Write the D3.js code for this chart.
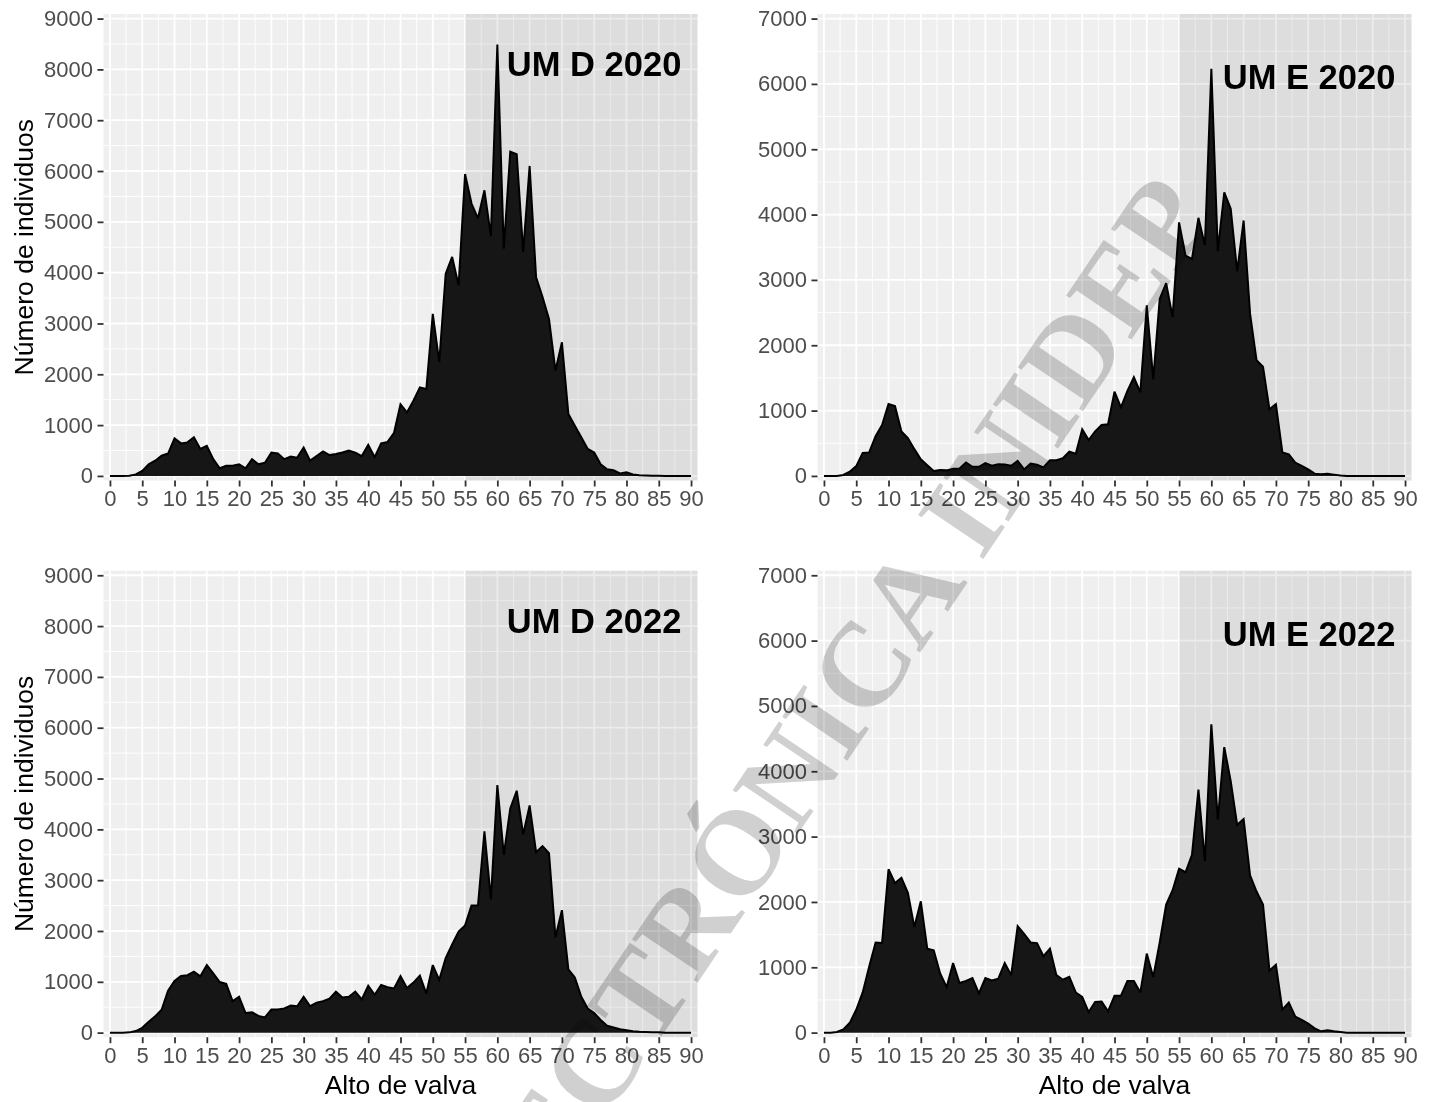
<!DOCTYPE html>
<html>
<head>
<meta charset="utf-8">
<script src="https://cdn.jsdelivr.net/npm/d3@7"></script>
<style>
  body { margin: 0; background: #fff; }
  svg { display: block; font-family: "Liberation Sans", Arial, sans-serif; }
</style>
</head>
<body>
<svg id="chart" width="1436" height="1102"></svg>
<script>
// Shell height classes (mm), one value per 1 mm class from 0 to 90
const sizes = d3.range(0, 91);

// Number of individuals per size class, one series per management unit and year
const umD2020 = [0,0,0,5,30,100,230,300,400,440,740,640,660,760,530,590,330,150,200,200,
  230,150,330,230,260,460,440,330,380,360,560,300,390,480,410,430,460,500,460,390,
  610,370,640,670,850,1410,1250,1480,1740,1710,3190,2240,3980,4310,3750,5940,5360,5070,5620,4720,
  8490,4470,6380,6330,4410,6100,3910,3520,3090,2070,2630,1220,990,760,530,460,230,130,110,50,
  70,30,15,10,5,5,0,0,0,0,0];

const umE2020 = [0,0,0,15,65,150,350,360,610,780,1100,1070,680,580,410,255,165,75,90,85,
  110,115,205,140,140,195,155,180,175,155,230,100,190,170,130,240,240,270,370,340,
  715,550,680,780,790,1290,1050,1300,1510,1280,2610,1480,2710,2950,2430,3880,3370,3320,3950,3530,
  6230,3440,4340,4090,3130,3910,2480,1770,1670,1020,1100,360,330,205,155,100,35,25,35,20,
  5,0,0,0,0,0,0,0,0,0,0];

const umD2022 = [0,0,0,5,30,95,215,320,450,825,1015,1115,1130,1200,1110,1330,1165,995,960,620,
  705,385,400,330,300,455,455,475,535,520,705,520,590,620,670,805,690,705,805,655,
  925,745,940,895,870,1110,880,985,1120,770,1330,1040,1465,1735,1990,2110,2500,2500,3960,2620,
  4870,3500,4410,4760,3900,4470,3550,3670,3530,1875,2410,1245,1085,705,475,385,250,135,100,65,
  45,25,15,10,5,5,0,0,0,0,0];

const umE2022 = [0,0,10,50,150,350,615,1010,1380,1370,2500,2290,2370,2140,1615,2010,1285,1260,905,695,
  1065,760,790,835,600,835,800,825,1065,880,1630,1510,1380,1370,1170,1285,880,810,855,615,
  545,315,470,475,325,565,565,790,790,615,1210,850,1380,1960,2180,2510,2455,2720,3720,2625,
  4720,3260,4370,3850,3180,3270,2405,2160,1960,950,1040,350,460,245,195,140,65,20,35,20,
  10,0,0,0,0,0,0,0,0,0,0];

const panelLabels = ["UM D 2020", "UM E 2020", "UM D 2022", "UM E 2022"];
const panelSeries = [umD2020, umE2020, umD2022, umE2022];
const panelYMax = [9000, 7000, 9000, 7000];
const labelY = [8100, 6100, 8100, 6100];   // vertical position of the panel tag, in data units
const labelX = 88.5;                          // right edge of the panel tag, in mm
const xTicks = d3.range(0, 91, 5);
const xMinor = d3.range(2.5, 91, 5);
const shadeStart = 55;                        // commercial size range starts here (mm)
const xTitle = "Alto de valva";
const yTitle = "Número de individuos";
const watermarkText = "ELECTRÓNICA INIDEP";

// Layout of the 2 x 2 grid
const panelW = 594, panelH = 466.5;
const colLeft = [103.5, 817.5];
const rowTop = [14, 570.7];

const svg = d3.select("#chart");
svg.append("rect").attr("width", 1436).attr("height", 1102).attr("fill", "#fff");

panelLabels.forEach((label, i) => {
  const col = i % 2, row = Math.floor(i / 2);
  const left = colLeft[col], top = rowTop[row];
  const yMax = panelYMax[i];
  const values = panelSeries[i];

  const x = d3.scaleLinear().domain([-1, 91]).range([left, left + panelW]);
  const y = d3.scaleLinear().domain([-yMax * 0.01, yMax * 1.01]).range([top + panelH, top]);
  const yTicks = d3.range(0, yMax + 1, 1000);
  const yMinor = d3.range(500, yMax, 1000);

  const g = svg.append("g");

  // panel background
  g.append("rect")
    .attr("x", left).attr("y", top).attr("width", panelW).attr("height", panelH)
    .attr("fill", "#efefef");

  // minor grid
  g.selectAll(null).data(xMinor).join("line")
    .attr("x1", d => x(d)).attr("x2", d => x(d))
    .attr("y1", top).attr("y2", top + panelH)
    .attr("stroke", "#fff").attr("stroke-width", 0.9);
  g.selectAll(null).data(yMinor).join("line")
    .attr("y1", d => y(d)).attr("y2", d => y(d))
    .attr("x1", left).attr("x2", left + panelW)
    .attr("stroke", "#fff").attr("stroke-width", 0.9);

  // major grid
  g.selectAll(null).data(xTicks).join("line")
    .attr("x1", d => x(d)).attr("x2", d => x(d))
    .attr("y1", top).attr("y2", top + panelH)
    .attr("stroke", "#fff").attr("stroke-width", 1.8);
  g.selectAll(null).data(yTicks).join("line")
    .attr("y1", d => y(d)).attr("y2", d => y(d))
    .attr("x1", left).attr("x2", left + panelW)
    .attr("stroke", "#fff").attr("stroke-width", 1.8);

  // shaded size range
  g.append("rect")
    .attr("x", x(shadeStart)).attr("y", top)
    .attr("width", x.range()[1] - x(shadeStart)).attr("height", panelH)
    .attr("fill", "#000").attr("fill-opacity", 0.075);

  // frequency area
  const area = d3.area()
    .x((d, k) => x(sizes[k]))
    .y0(y(0))
    .y1(d => y(d));
  const line = d3.line()
    .x((d, k) => x(sizes[k]))
    .y(d => y(d));

  g.append("path").datum(values)
    .attr("d", area)
    .attr("fill", "#161616");
  g.append("path").datum(values)
    .attr("d", line)
    .attr("fill", "none")
    .attr("stroke", "#000")
    .attr("stroke-width", 2)
    .attr("stroke-linejoin", "miter")
    .attr("stroke-miterlimit", 3);

  // panel tag
  g.append("text")
    .attr("x", x(labelX)).attr("y", y(labelY[i]))
    .attr("text-anchor", "end")
    .attr("dominant-baseline", "central")
    .attr("font-size", 34.5).attr("font-weight", "bold")
    .attr("fill", "#000")
    .text(label);

  // axes
  const xAxis = d3.axisBottom(x).tickValues(xTicks).tickSize(6).tickPadding(4).tickFormat(d3.format("d"));
  const yAxis = d3.axisLeft(y).tickValues(yTicks).tickSize(6).tickPadding(4.5).tickFormat(d3.format("d"));

  const gx = svg.append("g").attr("transform", `translate(0,${top + panelH})`).call(xAxis);
  const gy = svg.append("g").attr("transform", `translate(${left},0)`).call(yAxis);
  [gx, gy].forEach(a => {
    a.select(".domain").remove();
    a.selectAll(".tick line").attr("stroke", "#333").attr("stroke-width", 1.8);
    a.selectAll(".tick text")
      .attr("fill", "#4d4d4d")
      .attr("font-size", 22)
      .attr("font-family", "Liberation Sans, Arial, sans-serif");
  });

  // axis titles: y on the left column, x on the bottom row
  if (col === 0) {
    svg.append("text")
      .attr("transform", `translate(33,${top + panelH / 2}) rotate(-90)`)
      .attr("text-anchor", "middle")
      .attr("font-size", 26.5)
      .attr("fill", "#000")
      .text(yTitle);
  }
  if (row === 1) {
    svg.append("text")
      .attr("x", left + panelW / 2).attr("y", 1094)
      .attr("text-anchor", "middle")
      .attr("font-size", 26.5)
      .attr("fill", "#000")
      .text(xTitle);
  }
});

// diagonal watermark across the figure
svg.append("text")
  .attr("transform", "translate(1216,214) rotate(-56)")
  .attr("text-anchor", "end")
  .attr("font-family", "Liberation Serif, Times New Roman, serif")
  .attr("font-weight", "bold")
  .attr("font-size", 120)
  .attr("fill", "#d0d0d0")
  .style("mix-blend-mode", "multiply")
  .text(watermarkText);
</script>
</body>
</html>
